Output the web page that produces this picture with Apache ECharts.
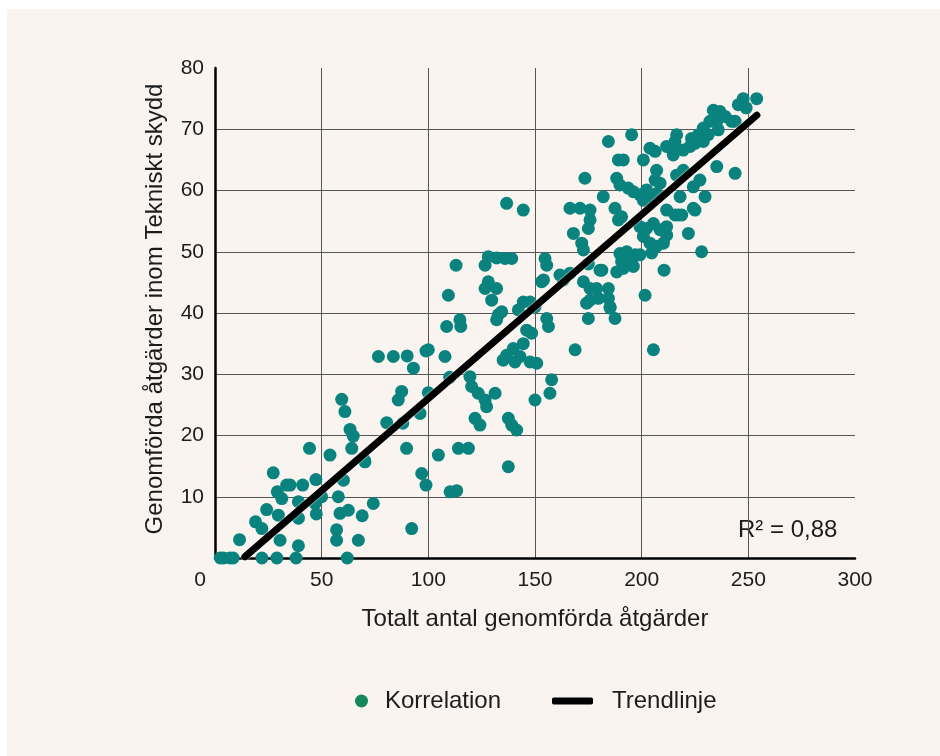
<!DOCTYPE html>
<html>
<head>
<meta charset="utf-8">
<script src="https://cdn.jsdelivr.net/npm/echarts@6/dist/echarts.min.js"></script>
<style>
  body { margin: 0; background: #fff; }
  #panel { position: absolute; left: 7px; top: 9px; right: 0; bottom: 0; background: #f9f4f0; }
  #main { position: absolute; left: 0; top: 0; width: 940px; height: 756px; }
</style>
</head>
<body>
<div id="panel"></div>
<div id="main"></div>
<script>
// [totalt antal, varav tekniskt skydd]
const korrelation = [
  [2.5, 0], [4, 0], [7, 0], [8.5, 0], [22, 0], [29, 0], [38, 0], [62, 0],
  [11.5, 3], [19, 5.9], [22, 4.8], [24.2, 7.9], [27.3, 13.9], [29.2, 10.8], [31.3, 9.7], [30.5, 2.9],
  [29.7, 7], [33.6, 11.9], [35.2, 11.9], [41.1, 11.9], [39.1, 9.2], [39.1, 6.5], [39.1, 2], [44.3, 17.9],
  [47.3, 12.8], [46.9, 8.9], [47.5, 7.2], [53.9, 16.8], [57.8, 10], [58.6, 7.3], [62.5, 7.8], [57, 4.6],
  [57, 2.9], [59.4, 25.9], [60.9, 23.9], [63.3, 21], [64.8, 19.9], [64.1, 17.9], [67.2, 2.9], [69, 6.9],
  [74.2, 8.9], [70.3, 15.7], [60.2, 12.7], [50, 10], [70, 16],
  [76.6, 32.9], [83.6, 32.9], [90.1, 33], [93, 31], [98.9, 33.8], [100, 34], [107.8, 32.9], [87.5, 27.2],
  [85.9, 25.8], [80.5, 22.1], [89.8, 17.9], [96.9, 13.8], [98.9, 11.9], [92.2, 4.8], [96.1, 23.6], [104.7, 16.8],
  [108.6, 37.8], [110.2, 10.8], [113.3, 11], [114.1, 17.9], [118.8, 17.9], [113, 47.8], [109.4, 42.9],
  [114.8, 38.9], [115.2, 37.8], [88, 22], [100, 27], [110, 29.5],
  [119.5, 29.6], [120.3, 28], [123.4, 26.9], [126.6, 25.8], [127.3, 24.7], [131.3, 26.9], [121.9, 22.8],
  [124.2, 21.7], [137.5, 22.8], [139.1, 21.7], [141.4, 20.9], [137.5, 14.9], [150, 25.8], [157.8, 29.1], [157, 26.9],
  [128.1, 49.2], [132, 49], [135.9, 48.9], [139.1, 48.9], [126.6, 47.8], [154.7, 48.9], [155.5, 47.8],
  [128.1, 45.1], [132, 44], [126.6, 44], [129.7, 42.1], [153.1, 45.1],
  [132.8, 39.7], [134.4, 40.2], [132, 38.9], [144.5, 41.8], [147.7, 41.8], [142.2, 40.5], [155.5, 39.1],
  [156.3, 37.8], [146.1, 37.2], [148.4, 36.7], [144.5, 35], [139.8, 34.2], [136.7, 33.1], [140.6, 32],
  [135.1, 32.3], [143, 32.9], [147.7, 32], [150.8, 31.8], [168.8, 34], [150, 41],
  [136.7, 57.9], [144.5, 56.8], [163.3, 45.4], [161.7, 46.2], [166.4, 46.5],
  [184.4, 68], [195.3, 69.1], [189.1, 65], [191.4, 65], [200.8, 65], [203.9, 66.9], [206.3, 66.4],
  [211.7, 67.2], [215.6, 68], [214.8, 65.8], [173.4, 62], [188.3, 62], [189.8, 60.9], [193.7, 60.4],
  [196.1, 59.8], [199.2, 59.3], [200.8, 58.4], [207, 63.3], [206.3, 61.7], [208.6, 61.2], [182, 59],
  [166.4, 57.1], [171.1, 57.1], [175.8, 56.8], [175.8, 55.2], [175, 53.8], [187.5, 57.1], [189.1, 55.2],
  [190.6, 55.7], [168, 53], [171.9, 51.4], [172.7, 50.3],
  [199.2, 54.1], [202.3, 53.8], [205.5, 54.6], [208.6, 53.6], [211.7, 52.7], [200.8, 52.5], [203.9, 51.4],
  [207, 50.9], [204.7, 49.8], [210.2, 51.4], [211.7, 54.1],
  [189.8, 49.7], [193, 50], [196.9, 49.5], [190.6, 48.4], [196.1, 47.6], [188.3, 46.7], [199.2, 49.5],
  [181.3, 47], [210.5, 47], [154, 45.4], [175, 48],
  [172.7, 45.1], [175.8, 44], [178.9, 44], [184.4, 44], [175.8, 42.1], [179.7, 42.4], [184.4, 42.4],
  [185.2, 40.8], [201.6, 42.9], [175, 39.1], [187.5, 39.1], [174.2, 41.6], [185.2, 41], [205.5, 34],
  [180.5, 47], [191.4, 47.3], [195.3, 48.7],
  [253.9, 75], [247.6, 75], [245.3, 74], [249, 73.5], [233.6, 73.1], [236.7, 72.9], [239.1, 72.1],
  [242.2, 71.3], [235.2, 71.3], [232, 71.3], [228.9, 70.2], [226.6, 69.1], [223.4, 68.5], [231.2, 69.1],
  [235.9, 69.9], [216.4, 69.1], [214.8, 66.4], [219.5, 66.6], [222.7, 67.2], [225, 67.7], [228.9, 68],
  [243.8, 71.3], [235.2, 63.9], [243.8, 62.8], [202.3, 60.1], [203.9, 59], [207, 59.5], [218, 59],
  [224.2, 60.6], [227.3, 61.7], [229.7, 59], [211.7, 56.8], [215.6, 56], [217.2, 56], [224.2, 57.1],
  [221.9, 53], [228.1, 50], [216.4, 62.5], [219.5, 63.3], [218.8, 56], [225, 56.8]
]
const trendlinje = [[14, 0.2], [254, 72.3]]
const xTicks = [0, 50, 100, 150, 200, 250, 300]
const yTicks = [0, 10, 20, 30, 40, 50, 60, 70, 80]
const r2Text = 'R² = 0,88'

const font = "'Liberation Sans', Arial, sans-serif"
const ink = '#1c1c1c'

const myChart = echarts.init(document.getElementById('main'))
myChart.setOption({
  backgroundColor: 'transparent',
  animation: false,
  textStyle: { fontFamily: font, color: ink },
  grid: { left: 215, right: 85, top: 68, bottom: 198 },
  xAxis: {
    type: 'value',
    min: xTicks[0],
    max: xTicks[xTicks.length - 1],
    interval: 50,
    name: 'Totalt antal genomförda åtgärder',
    nameLocation: 'middle',
    nameGap: 49,
    nameTextStyle: { fontSize: 24, color: ink, fontFamily: font },
    axisLine: { lineStyle: { color: '#000', width: 2.5 } },
    axisTick: { show: false },
    axisLabel: {
      fontSize: 21, color: ink, margin: 12, fontFamily: font,
      // origin label sits to the left of the axis corner
      formatter: v => (v === 0 ? '{o|0}' : String(v)),
      rich: { o: { fontSize: 21, color: ink, fontFamily: font, padding: [0, 30, 0, 0] } }
    },
    splitLine: { show: true, showMinLine: false, showMaxLine: false, lineStyle: { color: '#555', width: 1 } }
  },
  yAxis: {
    type: 'value',
    min: yTicks[0],
    max: yTicks[yTicks.length - 1],
    interval: 10,
    name: 'Genomförda åtgärder inom Tekniskt skydd',
    nameLocation: 'middle',
    nameGap: 48,
    nameTextStyle: { fontSize: 24, color: ink, fontFamily: font, padding: [0, 0, 0, 8] },
    axisLine: { show: true, lineStyle: { color: '#000', width: 2.5 } },
    axisTick: { show: false },
    axisLabel: { fontSize: 21, color: ink, margin: 11, fontFamily: font, showMinLabel: false },
    splitLine: { show: true, showMinLine: false, showMaxLine: false, lineStyle: { color: '#555', width: 1 } }
  },
  legend: [
    {
      data: [{ name: 'Korrelation', itemStyle: { color: '#14875e' } }],
      left: 350, top: 684,
      icon: 'circle',
      itemWidth: 13, itemHeight: 13,
      textStyle: { fontSize: 24, color: ink, fontFamily: font, padding: [0, 0, 0, 12] }
    },
    {
      data: ['Trendlinje'],
      left: 547, top: 684,
      icon: 'roundRect',
      itemWidth: 41, itemHeight: 7,
      textStyle: { fontSize: 24, color: ink, fontFamily: font, padding: [0, 0, 0, 14] }
    }
  ],
  graphic: [
    {
      type: 'text',
      left: 738, top: 518,
      style: { text: r2Text, fontSize: 24, fill: ink, fontFamily: font }
    }
  ],
  series: [
    {
      name: 'Korrelation',
      type: 'scatter',
      data: korrelation,
      symbolSize: 13,
      itemStyle: { color: '#0a837f', opacity: 1 },
      z: 2
    },
    {
      name: 'Trendlinje',
      type: 'line',
      data: trendlinje,
      symbol: 'none',
      lineStyle: { color: '#000', width: 7, cap: 'round', shadowColor: '#fff', shadowBlur: 2 },
      itemStyle: { color: '#000' },
      z: 3
    }
  ]
})
</script>
</body>
</html>
